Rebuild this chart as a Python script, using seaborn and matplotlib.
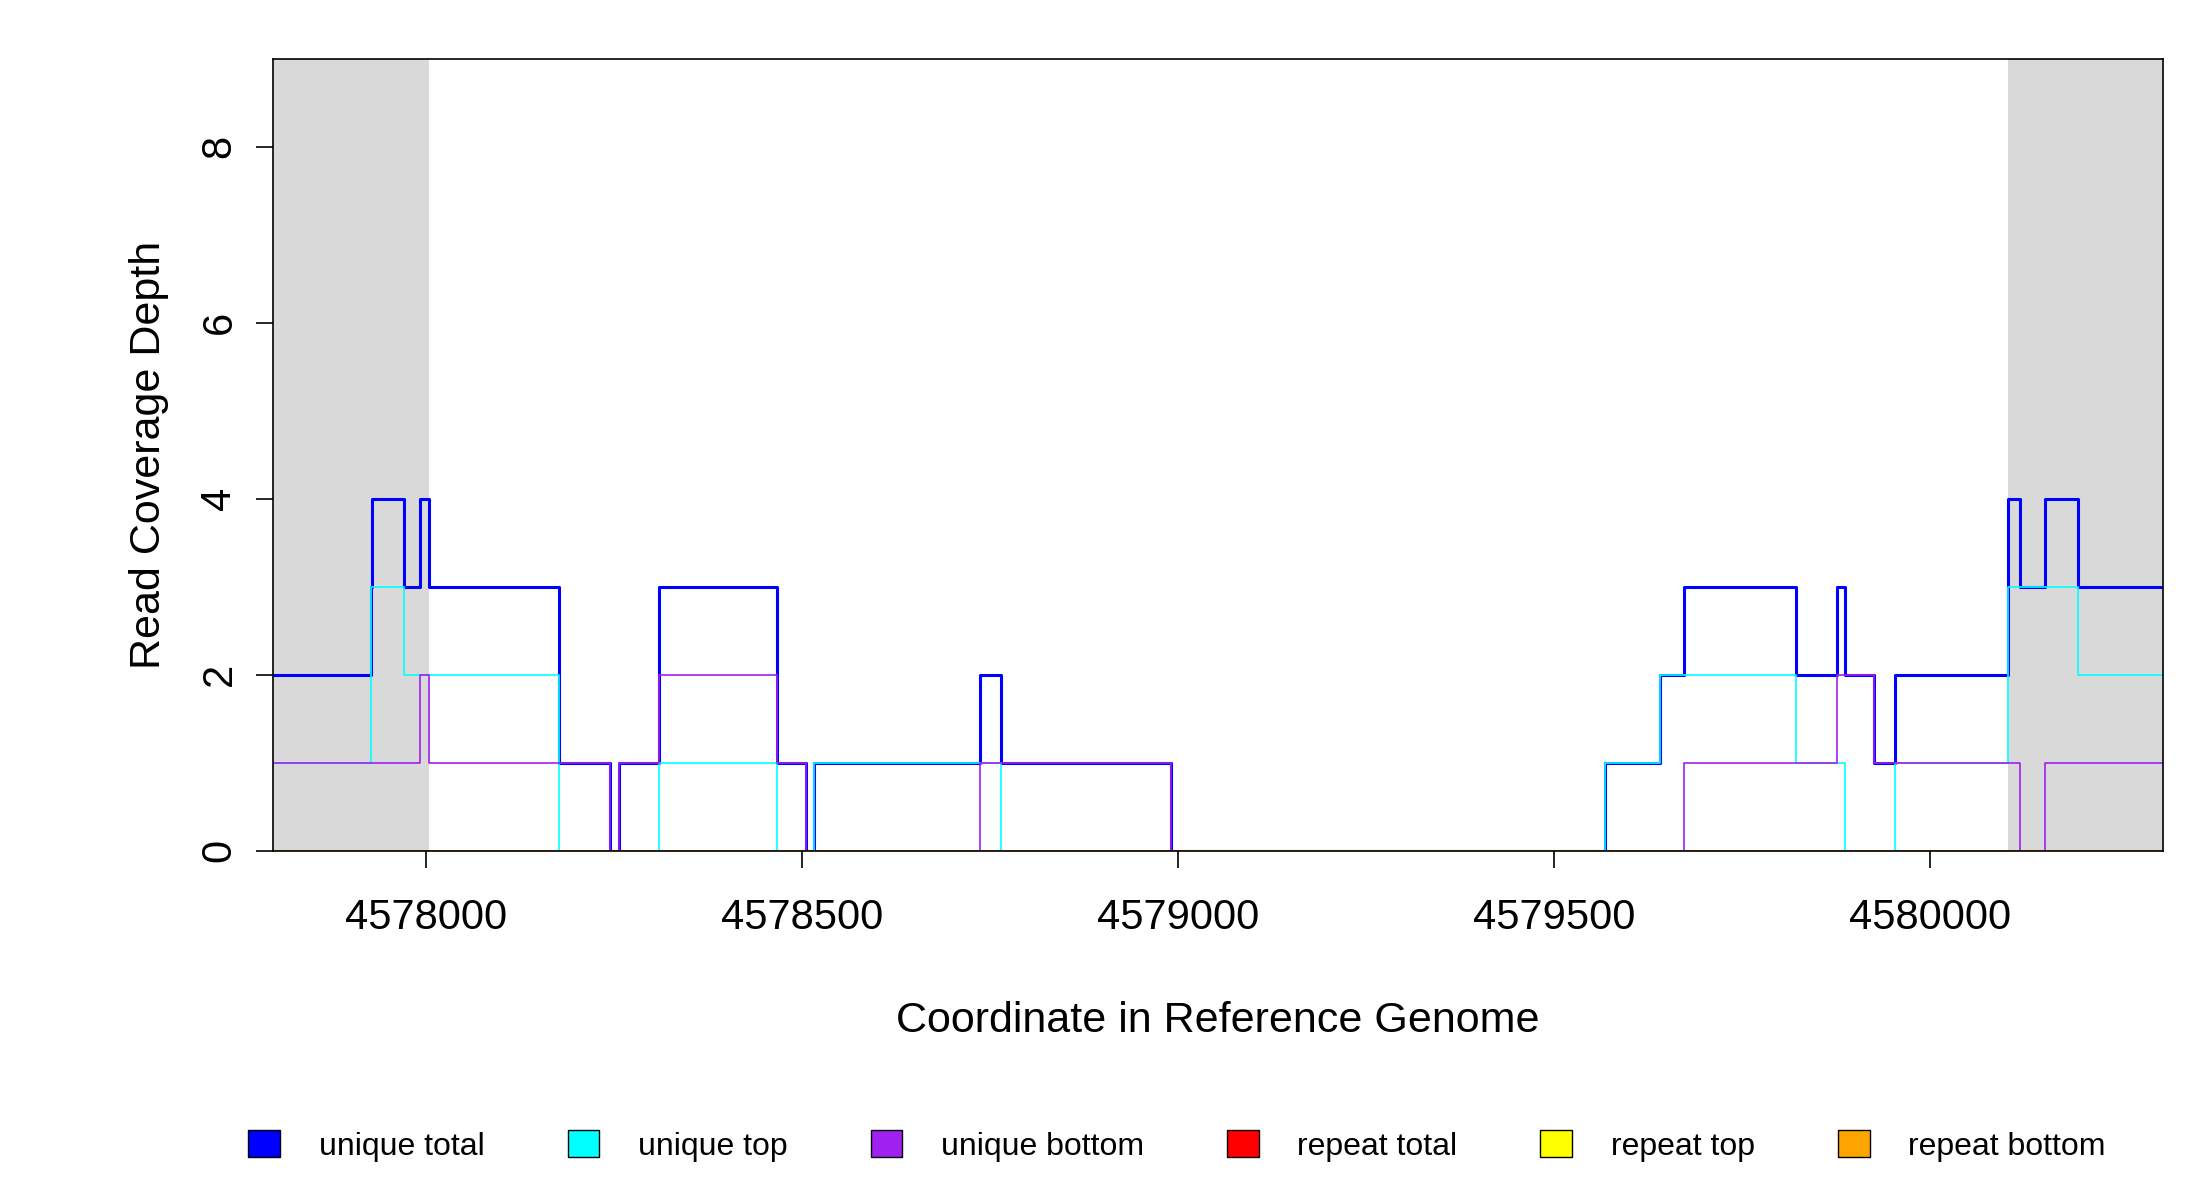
import numpy as np
import pandas as pd
import seaborn as sns
import matplotlib.pyplot as plt
from matplotlib.patches import Patch

# step breakpoints (coordinate where each value starts)
total_x = [4577796, 4577926, 4577928, 4577970, 4577992, 4578004, 4578177, 4578245, 4578256,
           4578309, 4578466, 4578505, 4578516, 4578737, 4578765, 4578990, 4579568, 4579640,
           4579672, 4579821, 4579876, 4579887, 4579925, 4579953, 4580104, 4580119, 4580153,
           4580196, 4580309]
total_y = [2, 3, 4, 3, 4, 3, 1, 0, 1, 3, 1, 0, 1, 2, 1, 0, 1, 2, 3, 2, 3, 2, 1, 2, 4, 3, 4, 3, 3]

top_x = [4577796, 4577926, 4577970, 4578177, 4578309, 4578466, 4578516, 4578765, 4579568,
         4579640, 4579821, 4579887, 4579953, 4580104, 4580196, 4580309]
top_y = [1, 3, 2, 0, 1, 0, 1, 0, 1, 2, 1, 0, 1, 3, 2, 2]

bottom_x = [4577796, 4577992, 4578004, 4578245, 4578256, 4578309, 4578466, 4578505, 4578737,
            4578990, 4579672, 4579876, 4579925, 4580119, 4580153, 4580309]
bottom_y = [1, 2, 1, 0, 1, 2, 1, 0, 1, 0, 1, 2, 1, 0, 1, 1]

repeat_x = [4577796, 4580309]
repeat_y = [0, 0]

xmin, xmax = 4577796, 4580309
flank_left, flank_right = 4578004, 4580104

sns.set_style("white")
plt.rcParams['font.family'] = ['Liberation Sans', 'DejaVu Sans']
plt.rcParams['text.color'] = 'black'
plt.rcParams['axes.labelcolor'] = 'black'
plt.rcParams['xtick.color'] = 'black'
plt.rcParams['ytick.color'] = 'black'

fig = plt.figure(figsize=(22, 12), dpi=100)
ax = fig.add_axes([0.124, 0.291, 0.859, 0.66])

ax.axvspan(xmin, flank_left, color='#d9d9d9', lw=0)
ax.axvspan(flank_right, xmax, color='#d9d9d9', lw=0)

series = [
    (total_x, total_y, 'blue', 2.2),
    (top_x, top_y, 'cyan', 1.2),
    (bottom_x, bottom_y, '#a020f0', 1.2),
    (repeat_x, repeat_y, 'red', 1.2),
    (repeat_x, repeat_y, 'orange', 2.0),
]
for xs, ys, c, lw in series:
    df = pd.DataFrame({'x': xs, 'y': ys})
    sns.lineplot(data=df, x='x', y='y', ax=ax, color=c, lw=lw,
                 drawstyle='steps-post', estimator=None)

ax.set_xlim(xmin, xmax)
ax.set_ylim(0, 9)
ax.set_xticks([4578000, 4578500, 4579000, 4579500, 4580000])
ax.set_xticklabels(['4578000', '4578500', '4579000', '4579500', '4580000'])
ax.set_yticks([0, 2, 4, 6, 8])
ax.tick_params(axis='both', direction='out', length=12, width=1.2, labelsize=30,
               bottom=True, left=True, pad=12)
ax.tick_params(axis='x', pad=22)
for lab in ax.get_yticklabels():
    lab.set_rotation(90)
    lab.set_va('center')
for s in ax.spines.values():
    s.set_color('black')
    s.set_linewidth(1.2)
ax.set_xlabel('Coordinate in Reference Genome', fontsize=31, labelpad=45)
ax.set_ylabel('Read Coverage Depth', fontsize=31, labelpad=22)

handles = [Patch(facecolor=c, edgecolor='black', label=l) for c, l in [
    ('blue', 'unique total'), ('cyan', 'unique top'), ('#a020f0', 'unique bottom'),
    ('red', 'repeat total'), ('yellow', 'repeat top'), ('orange', 'repeat bottom')]]
fig.legend(handles=handles, loc='center', bbox_to_anchor=(0.535, 0.045), ncol=6,
           frameon=False, fontsize=23, handlelength=1.0, handleheight=0.9,
           columnspacing=2.6, handletextpad=1.2)

fig.savefig('out.png', dpi=100)
